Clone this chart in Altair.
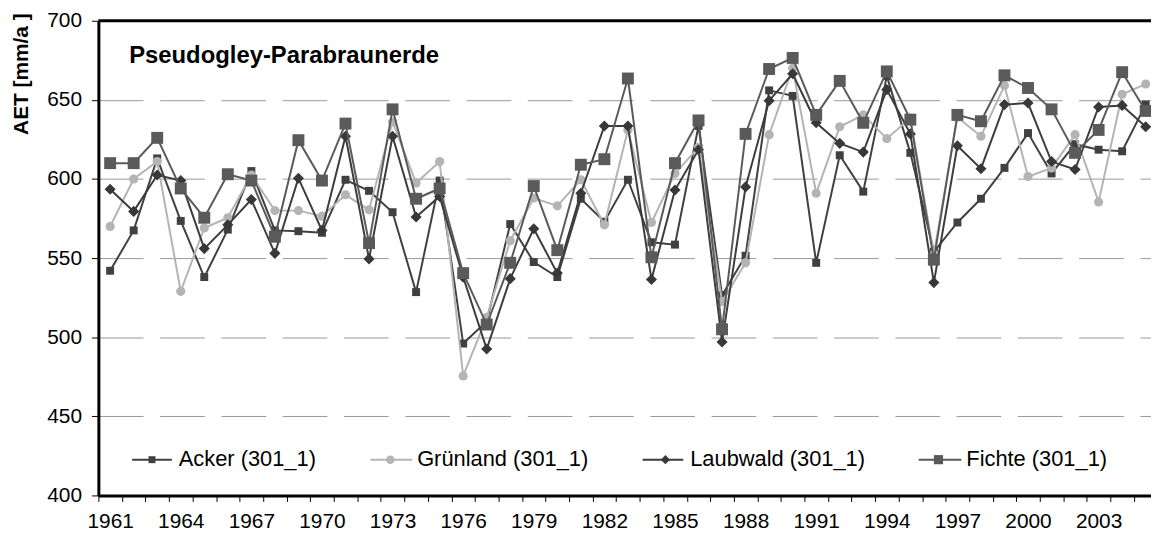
import altair as alt
import pandas as pd

# ---------------- data ----------------
years = list(range(1961, 2006))

acker = [542, 567.5, 613, 573.5, 538, 568, 605, 567.5, 567, 566,
         599.5, 592.5, 579, 528.5, 599, 496, 510, 571.5, 547.5, 538,
         587.5, 573, 599.5, 560, 558.5, 633.5, 526.5, 551.5, 656, 652.5,
         547, 615, 592, 665, 616.5, 554, 572.5, 587.5, 607, 629,
         603.5, 622, 618.5, 617.5, 647]

gruenland = [570, 600, 611, 529, 569, 575.5, 602.5, 580, 580, 576.5,
             590, 580.5, 636, 597.5, 611, 475.5, 512.5, 561, 588, 583,
             599.5, 571, 631, 572.5, 603.5, 620, 522.5, 547, 628, 670,
             591, 633, 640.5, 625.5, 638.5, 552.5, 639, 627, 659, 601.5,
             607, 628, 585.5, 653.5, 660]

laubwald = [593.5, 579.5, 602.5, 599, 556, 571, 587, 553, 600.5, 567.5,
            627, 549.5, 627, 576, 589, 538, 492.5, 537, 568.5, 540.5,
            591, 633.5, 633.5, 536.5, 593, 618.5, 497, 595, 649.5, 666.5,
            635.5, 622.5, 617, 656.5, 628.5, 534.5, 621, 606.5, 647, 648,
            611, 606, 645.5, 646.5, 633]

fichte = [610, 610, 626, 594, 575.5, 603, 599, 563.5, 624.5, 599,
          635, 559.5, 644, 587.5, 594, 540.5, 508, 547, 595.5, 555,
          609, 612.5, 663.5, 550.5, 610, 637, 505, 628.5, 669.5, 676.5,
          640.5, 662, 635.5, 668, 637.5, 549, 640.5, 636.5, 665.5, 657.5,
          644, 616.5, 631, 667.5, 643]

series_names = ["Acker (301_1)", "Grünland (301_1)", "Laubwald (301_1)", "Fichte (301_1)"]
series_values = [acker, gruenland, laubwald, fichte]

y_ticks = [400, 450, 500, 550, 600, 650, 700]
x_boundaries = [y - 0.5 for y in years] + [years[-1] + 0.5]
chart_title = "Pseudogley-Parabraunerde"
y_title = "AET [mm/a ]"

# ---------------- styles ----------------
FONT = "Liberation Sans"
W, H = 1060, 478
STEP = 23.7
x_scale = alt.Scale(domain=[years[0] - 0.5, years[0] - 0.5 + W / STEP], nice=False, zero=False)
y_scale = alt.Scale(domain=[400, 700], nice=False, zero=False)

styles = [
    dict(line="#404040", fill="#404040", shape="square", size=64,
         lx0=34, lx1=74, lm=54, lt=81, lsize=49),
    dict(line="#b4b4b4", fill="#b4b4b4", shape="circle", size=85,
         lx0=274, lx1=316, lm=294, lt=321, lsize=72),
    dict(line="#3c3c3c", fill="#383838", shape="diamond", size=125,
         lx0=548, lx1=589, lm=571, lt=596, lsize=85),
    dict(line="#5a5a5a", fill="#5a5a5a", shape="square", size=144,
         lx0=826, lx1=869, lm=846, lt=874, lsize=85),
]

x_axis = alt.Axis(
    values=x_boundaries,
    labelExpr="(datum.value - 1960.5) % 3 == 0 ? toString(datum.value + 0.5) : ''",
    labelOffset=STEP / 2, labelOverlap=False, labelFlush=False,
    labelFont=FONT, labelFontSize=21, labelColor="#000000", labelPadding=9,
    tickSize=6, tickColor="#000000", tickWidth=1,
    domainColor="#000000", domainWidth=3, grid=False, title=None,
)
y_axis = alt.Axis(
    values=y_ticks, labelFont=FONT, labelFontSize=21, labelColor="#000000",
    labelPadding=10, tickSize=7, tickColor="#000000", tickWidth=1,
    domainColor="#000000", domainWidth=3,
    grid=True, gridColor="#999999", gridWidth=1, gridDash=[45, 16.7],
    title=y_title, titleFont=FONT, titleFontSize=21, titleFontWeight="bold",
    titleColor="#000000", titleAngle=270, titleAlign="right", titleBaseline="middle",
    titleX=-77, titleY=-8,
)

layers = []
for i, (name, vals, st) in enumerate(zip(series_names, series_values, styles)):
    df = pd.DataFrame({"year": years, "value": vals})
    base = alt.Chart(df).encode(
        x=alt.X("year:Q", scale=x_scale, axis=x_axis),
        y=alt.Y("value:Q", scale=y_scale, axis=y_axis),
    )
    layers.append(base.mark_line(color=st["line"], strokeWidth=2))
    layers.append(base.mark_point(shape=st["shape"], size=st["size"], filled=True,
                                  color=st["fill"], opacity=1, strokeWidth=0))

# top border
top_df = pd.DataFrame({"value": [y_ticks[-1]]})
layers.append(alt.Chart(top_df).mark_rule(color="#000000", strokeWidth=3).encode(
    y=alt.Y("value:Q", scale=y_scale, axis=y_axis)))

# chart title inside plot
t_df = pd.DataFrame({"t": [chart_title]})
layers.append(alt.Chart(t_df).mark_text(
    align="left", baseline="alphabetic", font=FONT, fontSize=24, fontWeight="bold",
    color="#000000").encode(text="t:N", x=alt.value(31), y=alt.value(43)))

# manual legend
for name, st in zip(series_names, styles):
    ldf = pd.DataFrame({"name": [name]})
    lb = alt.Chart(ldf)
    layers.append(lb.mark_rule(color=st["line"], strokeWidth=2).encode(
        x=alt.value(st["lx0"]), x2=alt.value(st["lx1"]), y=alt.value(442)))
    layers.append(lb.mark_point(shape=st["shape"], size=st["lsize"], filled=True,
                                color=st["fill"], opacity=1, strokeWidth=0).encode(
        x=alt.value(st["lm"]), y=alt.value(442)))
    layers.append(lb.mark_text(align="left", baseline="alphabetic", font=FONT,
                               fontSize=22, color="#000000").encode(
        text="name:N", x=alt.value(st["lt"]), y=alt.value(448)))

chart = alt.layer(*layers).properties(
    width=W, height=H,
    padding={"left": 91, "top": 11, "right": 0, "bottom": 36},
    autosize=alt.AutoSizeParams(type="none"),
    background="#ffffff",
).configure_view(stroke=None)

chart.save("out.html", embed_options={"renderer": "svg", "actions": False})
